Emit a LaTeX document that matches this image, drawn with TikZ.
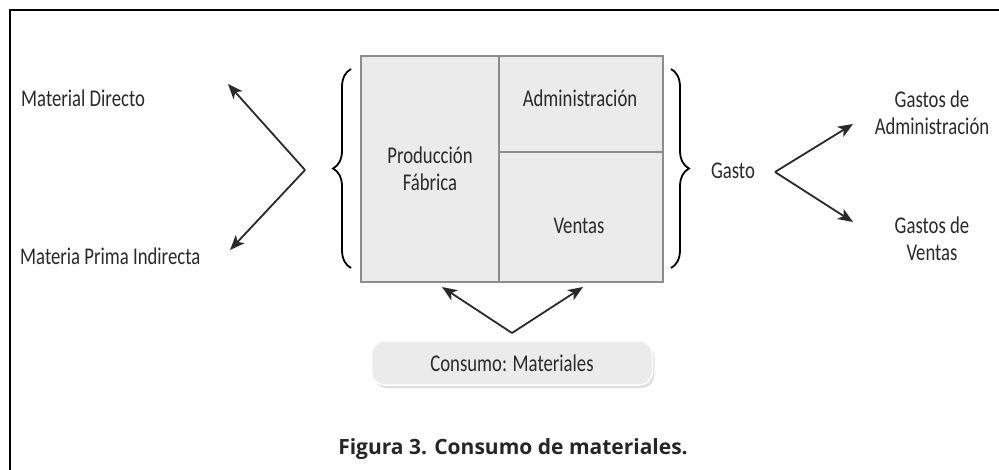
\documentclass[tikz,border=0pt]{standalone}
\usepackage{fontspec}
\setmainfont{Carlito}[FakeStretch=0.78]
\newfontfamily\capfont{Open Sans}
\usetikzlibrary{arrows.meta,decorations.pathreplacing,shadows}
\definecolor{txt}{HTML}{2A2A2A}
\definecolor{cellfill}{HTML}{EBEBEB}
\definecolor{cellline}{HTML}{8C8C8C}
\begin{document}
\begin{tikzpicture}[x=1pt,y=-1pt,
  lbl/.style={font=\fontsize{24}{30}\selectfont,text=txt,inner sep=0pt,align=center},
  cell/.style={draw=cellline,line width=2pt,fill=cellfill,inner sep=0pt},
  arr/.style={draw=txt,line width=1.8pt,-{Stealth[length=15pt,width=12pt,inset=4pt]}},
  brc/.style={draw=black,line width=1.8pt,decorate,decoration={brace,amplitude=18pt}}]
\useasboundingbox (0,0) rectangle (999,470);
\fill[white] (0,0) rectangle (999,470);
% frame
\draw[line width=2pt] (10,470) -- (10,10) -- (1000,10);
% cells
\node[cell,minimum width=138pt,minimum height=226pt] (prod) at (430,169) {};
\node[cell,minimum width=164pt,minimum height=96pt] (adm) at (581,104) {};
\node[cell,minimum width=164pt,minimum height=130pt] (ven) at (581,217) {};
\node[lbl] (tprod) at (430,169) {Producción\\[-3pt]Fábrica};
\node[lbl] (tadm) at (580,98) {Administración};
\node[lbl] (tven) at (579,226) {Ventas};
% braces
\draw[brc] (351,268) -- (351,69) coordinate (lb);
\draw[brc] (671,69) -- (671,268) coordinate (rb);
% left labels
\node[lbl,anchor=west] (md) at (21,98) {Material Directo};
\node[lbl,anchor=west] (mpi) at (20,256) {Materia Prima Indirecta};
\coordinate (lv) at (305,170);
\coordinate (lt1) at (228,84);
\coordinate (lt2) at (230,250);
\draw[arr] (lv) -- (lt1);
\draw[arr] (lv) -- (lt2);
% right side
\node[lbl] (gasto) at (733,171) {Gasto};
\coordinate (rv) at (775,172);
\coordinate (rt1) at (853,124);
\coordinate (rt2) at (853,222);
\draw[arr] (rv) -- (rt1);
\draw[arr] (rv) -- (rt2);
\node[lbl] (ga) at (932,113) {Gastos de\\[-3pt]Administración};
\node[lbl] (gv) at (932,239) {Gastos de\\[-3pt]Ventas};
% bottom
\node[draw=white,line width=1.5pt,fill=cellfill,rounded corners=13pt,minimum width=281pt,minimum height=44pt,
  drop shadow={shadow xshift=2pt,shadow yshift=-3pt,fill=black!25,opacity=0.5},
  lbl] (cons) at (512,363) {Consumo: Materiales};
\coordinate (bv) at (512,333);
\coordinate (bt1) at (442,287);
\coordinate (bt2) at (583,287);
\draw[arr] (bv) -- (bt1);
\draw[arr] (bv) -- (bt2);
% caption
\node[font=\capfont\bfseries\fontsize{21}{26}\selectfont,text=black!85,inner sep=0pt] (cap) at (513,449) {Figura 3. Consumo de materiales.};
\end{tikzpicture}
\end{document}
